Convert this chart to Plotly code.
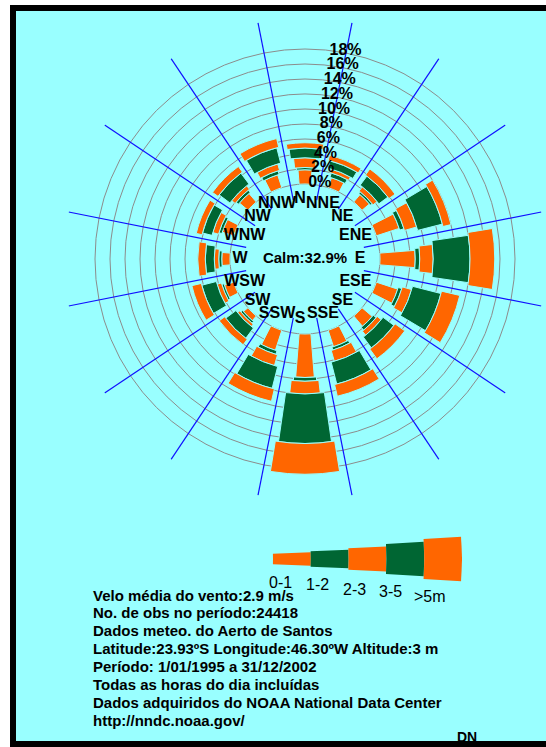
import numpy as np
import plotly.graph_objects as go

# ---- wind rose data (percent of observations per direction and speed class) ----
directions = ["N", "NNE", "NE", "ENE", "E", "ESE", "SE", "SSE",
              "S", "SSW", "SW", "WSW", "W", "WNW", "NW", "NNW"]
speed_classes = ["0-1", "1-2", "2-3", "3-5", ">5m"]

freq_0_1 = [1.9, 1.4, 1.3, 3.2, 4.7, 3.0, 1.8, 2.3, 5.8, 2.8, 0.8, 1.3, 1.1, 1.6, 1.5, 1.8]
freq_1_2 = [0.3, 0.6, 0.3, 0.6, 0.6, 0.5, 0.5, 0.4, 0.5, 0.5, 0.3, 0.3, 0.4, 0.4, 0.4, 0.5]
freq_2_3 = [1.3, 0.5, 0.7, 1.7, 1.8, 1.3, 0.7, 1.5, 1.7, 1.5, 0.4, 0.6, 0.6, 0.8, 0.6, 0.9]
freq_3_5 = [1.3, 1.0, 1.5, 3.4, 4.9, 3.9, 1.8, 3.0, 6.6, 3.0, 1.7, 2.0, 1.2, 1.3, 1.8, 2.1]
freq_gt5 = [0.7, 0.7, 1.0, 1.1, 3.3, 2.5, 1.6, 1.6, 4.1, 1.7, 0.9, 1.3, 1.0, 0.8, 0.9, 1.2]

calm_pct = 32.9
ring_ticks = [0, 2, 4, 6, 8, 10, 12, 14, 16, 18]

info_lines = [
    "Velo média do vento:2.9 m/s",
    "No. de obs no período:24418",
    "Dados meteo. do Aerto de Santos",
    "Latitude:23.93ºS Longitude:46.30ºW Altitude:3 m",
    "Período: 1/01/1995 a 31/12/2002",
    "Todas as horas do dia incluídas",
    "Dados adquiridos do NOAA National Data Center",
    "http://nndc.noaa.gov/",
]

# ---- styling ----
W, H = 546, 747
BG = "#99ffff"
ORANGE = "#ff6600"
GREEN = "#006633"
class_colors = [ORANGE, GREEN, ORANGE, GREEN, ORANGE]
class_widths = [9, 11, 13, 16.5, 18.5]        # angular width of each class (deg)
legend_widths = [4.0, 4.64, 5.34, 6.46, 7.5]  # angular width in the key strip (deg)
FONT = "Liberation Sans, Arial, sans-serif"

# rose geometry (pixels): centre, 0% ring radius, px per percent, outer radius
CX, CY = 305, 259
R0, PX_PER_PCT, R_OUT = 75, 7.5, 241
LABEL_DX = -5   # direction names sit slightly left of the ring centre
r_center = -R0 / PX_PER_PCT
r_max = (R_OUT - R0) / PX_PER_PCT

dir_theta = [22.5 * i for i in range(len(directions))]
boundary_theta = [t + 11.25 for t in dir_theta]

fig = go.Figure()

# sector boundary lines
line_r, line_t = [], []
for t in boundary_theta:
    line_r += [-2, r_max, None]
    line_t += [t, t, None]
fig.add_trace(go.Scatterpolar(r=line_r, theta=line_t, mode="lines",
                              line=dict(color="#1010ff", width=1.2),
                              hoverinfo="skip", showlegend=False, subplot="polar"))

# stacked speed-class bars
series = [freq_0_1, freq_1_2, freq_2_3, freq_3_5, freq_gt5]
stack = np.zeros(len(directions))
for name, vals, col, wdt in zip(speed_classes, series, class_colors, class_widths):
    vals = np.array(vals, dtype=float)
    fig.add_trace(go.Barpolar(r=vals, base=stack.copy(), theta=dir_theta,
                              width=[wdt] * len(directions), name=name,
                              marker=dict(color=col, line=dict(color=BG, width=1)),
                              showlegend=False, subplot="polar"))
    stack += vals

# ring labels
fig.add_trace(go.Scatterpolar(r=[v + 0.3 for v in ring_ticks], theta=[11] * len(ring_ticks),
                              mode="text", text=[f"<b>{v}%</b>" for v in ring_ticks],
                              textfont=dict(family=FONT, size=16, color="black"),
                              hoverinfo="skip", showlegend=False, subplot="polar"))

# calm percentage at the centre
fig.add_trace(go.Scatterpolar(r=[r_center], theta=[0], mode="text",
                              text=[f"<b>Calm:{calm_pct}%</b>"],
                              textfont=dict(family=FONT, size=15, color="black"),
                              hoverinfo="skip", showlegend=False, subplot="polar"))

# direction names just inside the 0% ring (own polar, nudged left)
fig.add_trace(go.Scatterpolar(r=[-2] * len(directions), theta=dir_theta,
                              mode="text", text=[f"<b>{d}</b>" for d in directions],
                              textfont=dict(family=FONT, size=16, color="black"),
                              hoverinfo="skip", showlegend=False, subplot="polar3"))

# speed-class key strip (a thin polar sector)
KEY_CX, KEY_X0, KEY_X1, KEY_CY = 120, 273, 462, 559
seg_px = (KEY_X1 - KEY_X0) / len(speed_classes)
key_r_min = -(KEY_X0 - KEY_CX) / seg_px
for i, (col, wdt) in enumerate(zip(class_colors, legend_widths)):
    fig.add_trace(go.Barpolar(r=[1], base=[i], theta=[0], width=[wdt],
                              marker=dict(color=col, line=dict(width=0)),
                              hoverinfo="skip", showlegend=False, subplot="polar2"))

hidden_axis = dict(showgrid=False, showline=False, showticklabels=False, ticks="")
rose_y = [1 - (CY + R_OUT) / H, 1 - (CY - R_OUT) / H]

fig.update_layout(
    width=W, height=H,
    margin=dict(l=0, r=0, t=0, b=0),
    paper_bgcolor="white",
    plot_bgcolor="rgba(0,0,0,0)",
    polar=dict(
        domain=dict(x=[(CX - R_OUT) / W, (CX + R_OUT) / W], y=rose_y),
        bgcolor="rgba(0,0,0,0)",
        hole=0,
        barmode="overlay",
        radialaxis=dict(range=[r_center, r_max], tickvals=ring_ticks,
                        showticklabels=False, showline=False, ticks="",
                        gridcolor="#8c8c8c", gridwidth=1, layer="below traces"),
        angularaxis=dict(rotation=90, direction="clockwise", layer="below traces",
                         **hidden_axis),
    ),
    polar3=dict(
        domain=dict(x=[(CX + LABEL_DX - R_OUT) / W, (CX + LABEL_DX + R_OUT) / W], y=rose_y),
        bgcolor="rgba(0,0,0,0)",
        radialaxis=dict(range=[r_center, r_max], **hidden_axis),
        angularaxis=dict(rotation=90, direction="clockwise", **hidden_axis),
    ),
    polar2=dict(
        domain=dict(x=[KEY_CX / W, KEY_X1 / W],
                    y=[1 - (KEY_CY + 40) / H, 1 - (KEY_CY - 40) / H]),
        sector=[-5, 5],
        bgcolor="rgba(0,0,0,0)",
        barmode="overlay",
        radialaxis=dict(range=[key_r_min, len(speed_classes)], **hidden_axis),
        angularaxis=dict(rotation=0, direction="counterclockwise", **hidden_axis),
    ),
    shapes=[dict(type="rect", xref="paper", yref="paper",
                 x0=13 / W, x1=1.02, y0=1 - 744 / H, y1=1 - 8 / H,
                 line=dict(color="black", width=6), fillcolor=BG, layer="below")],
)

# key labels, stepping downwards
key_label_xy = [(280, 582), (317, 584), (354, 589), (390, 591), (430, 596)]
for lab, (x, y) in zip(speed_classes, key_label_xy):
    fig.add_annotation(x=x / W, y=1 - y / H, xref="paper", yref="paper", text=lab,
                       showarrow=False, xanchor="center", yanchor="middle",
                       font=dict(family=FONT, size=16, color="black"))

# station information block
for i, line in enumerate(info_lines):
    fig.add_annotation(x=91 / W, y=1 - (595 + 17.9 * i) / H, xref="paper", yref="paper",
                       text=f"<b>{line}</b>", showarrow=False, xanchor="left",
                       yanchor="middle", font=dict(family=FONT, size=15, color="black"))

fig.add_annotation(x=467 / W, y=1 - 737 / H, xref="paper", yref="paper", text="<b>DN</b>",
                   showarrow=False, xanchor="center", yanchor="middle",
                   font=dict(family=FONT, size=14, color="black"))

fig.write_html("out.html")
